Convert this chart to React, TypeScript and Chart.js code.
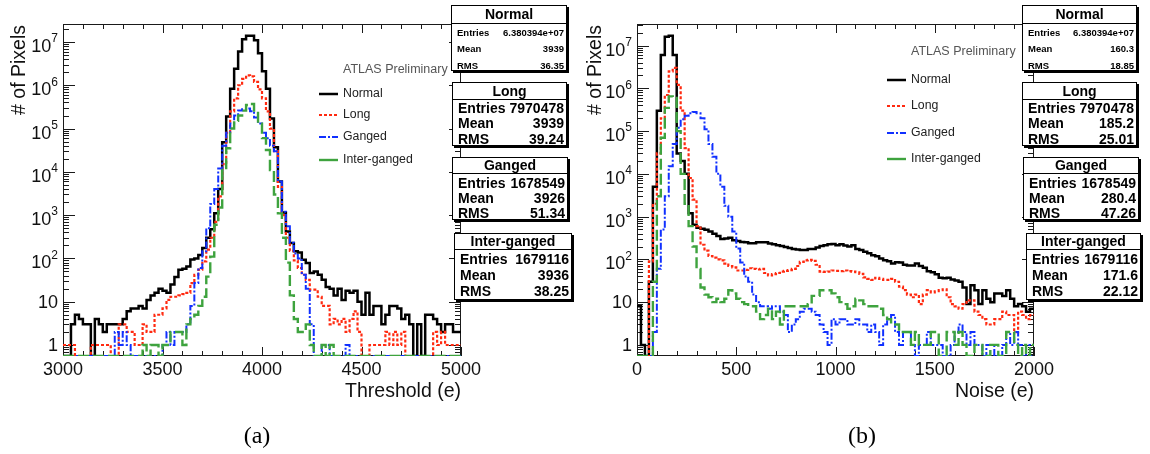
import React, { useEffect, useRef } from 'react';
import { Chart, registerables } from 'chart.js';

Chart.register(...registerables);

// ---------------- data ----------------
const binWidth = 20;
const thresholdRange = [3000, 5000];
const noiseRange = [0, 2000];
const thresholdMajorTicks = [3000, 3500, 4000, 4500, 5000];
const noiseMajorTicks = [0, 500, 1000, 1500, 2000];
const minorTickStep = 100;
const decadeTicks = [0, 1, 2, 3, 4, 5, 6, 7];

const seriesNames = ['Normal', 'Long', 'Ganged', 'Inter-ganged'];
const statLabels = ['Entries', 'Mean', 'RMS'];

const thresholdNormal = [
  0, 0, 3, 5, 4, 3, 3, 0, 4, 3,
  2, 3, 3, 3, 3, 4, 6, 7, 7, 8,
  7, 11, 14, 16, 20, 18, 16, 25, 37, 55,
  58, 65, 95, 100, 120, 175, 300, 470, 1100, 4000,
  48000, 190000, 830000, 2400000, 6000000, 11500000, 14000000, 14000000, 11000000, 5500000,
  2100000, 830000, 170000, 37000, 6000, 1150, 420, 227, 146, 137,
  93, 78, 46, 50, 42, 32, 22, 20, 14, 20,
  11, 18, 16, 18, 10, 5, 16, 5, 8, 8,
  3, 5, 8, 8, 7, 4, 5, 3, 0, 3,
  0, 5, 5, 4, 3, 2, 3, 3, 2, 2,
];
const thresholdLong = [
  1, 1, 1, 0, 0, 0, 0, 1, 1, 1,
  1, 1, 0, 0, 3, 3, 2, 2, 1, 1,
  3, 2, 2, 5, 5, 7, 11, 13, 13, 14,
  15, 16, 27, 42, 55, 85, 160, 300, 700, 2700,
  15000, 80000, 250000, 500000, 1000000, 1400000, 1700000, 1600000, 1200000, 800000,
  500000, 250000, 100000, 30000, 4500, 1000, 300, 150, 90, 60,
  42, 32, 19, 19, 13, 8, 8, 3, 4, 3,
  4, 2, 4, 6, 2, 0, 0, 1, 1, 1,
  1, 2, 1, 2, 1, 2, 0, 0, 0, 0,
  0, 0, 0, 2, 1, 2, 1, 1, 1, 1,
];
const thresholdGanged = [
  0, 0, 0, 0, 0, 0, 0, 0, 0, 0,
  0, 0, 0, 2, 1, 2, 1, 0, 0, 0,
  0, 0, 0, 0, 0, 1, 2, 1, 2, 2,
  2, 3, 8, 27, 60, 146, 500, 1800, 4000, 12000,
  40000, 80000, 130000, 200000, 260000, 280000, 290000, 250000, 180000, 130000,
  80000, 60000, 40000, 30000, 6000, 1200, 550, 230, 130, 100,
  42, 20, 3, 0, 0, 1, 1, 0, 0, 0,
  0, 1, 0, 0, 0, 0, 0, 0, 0, 0,
  0, 0, 0, 0, 0, 0, 0, 0, 0, 0,
  0, 0, 0, 0, 0, 0, 0, 0, 0, 0,
];
const thresholdInterGanged = [
  0, 0, 0, 0, 0, 0, 0, 0, 0, 0,
  0, 0, 0, 0, 0, 0, 0, 0, 0, 0,
  1, 0, 1, 1, 0, 1, 1, 2, 2, 2,
  1, 3, 4, 5, 8, 13, 38, 110, 600, 1500,
  11000, 35000, 100000, 150000, 200000, 260000, 350000, 370000, 260000, 130000,
  60000, 32000, 11000, 3000, 1100, 300, 80, 14, 4, 2,
  2, 3, 1, 0, 0, 1, 0, 1, 0, 0,
  0, 0, 0, 0, 0, 0, 0, 0, 0, 0,
  0, 0, 0, 0, 0, 0, 0, 0, 0, 0,
  0, 0, 0, 0, 0, 0, 0, 0, 0, 0,
];

const noiseNormal = [
  8, 1, 0, 30, 5000, 300000, 6000000, 16000000, 17000000, 6000000,
  30000, 20000, 10000, 1200, 650, 550, 520, 490, 450, 400,
  350, 300, 310, 320, 280, 270, 255, 250, 240, 240,
  250, 250, 250, 235, 225, 215, 205, 195, 185, 175,
  170, 165, 165, 175, 175, 190, 205, 215, 225, 230,
  215, 225, 210, 200, 215, 175, 165, 150, 140, 125,
  118, 105, 95, 90, 80, 86, 84, 75, 72, 72,
  80, 70, 64, 53, 50, 45, 37, 36, 37, 34,
  32, 30, 22, 9, 25, 19, 9, 19, 12, 10,
  16, 16, 14, 19, 12, 8, 9, 8, 6, 7,
];
const noiseLong = [
  0, 0, 0, 90, 2000, 30000, 200000, 700000, 2500000, 3000000,
  1200000, 300000, 40000, 8000, 2500, 600, 220, 160, 120, 110,
  100, 95, 80, 70, 65, 55, 55, 57, 62, 60,
  58, 60, 48, 42, 45, 48, 52, 54, 56, 60,
  70, 87, 95, 98, 92, 75, 52, 51, 52, 55,
  54, 53, 55, 53, 52, 50, 46, 38, 35, 33,
  37, 35, 33, 33, 35, 30, 23, 19, 15, 13,
  15, 9, 15, 19, 17, 18, 19, 20, 13, 9,
  8, 7, 9, 11, 11, 6, 5, 4, 3, 3,
  4, 4, 6, 5, 5, 2, 6, 5, 4, 5,
];
const noiseGanged = [
  0, 0, 0, 0, 2, 60, 500, 3000, 15000, 50000,
  120000, 190000, 230000, 260000, 280000, 260000, 200000, 110000, 50000, 25000,
  10000, 5000, 1800, 1000, 450, 180, 85, 40, 30, 15,
  10, 8, 8, 7, 8, 8, 6, 5, 2, 3,
  4, 6, 7, 7, 6, 5, 3, 2, 1, 4,
  3, 4, 4, 3, 3, 4, 3, 3, 2, 3,
  2, 1, 3, 4, 5, 2, 1, 2, 2, 1,
  0, 1, 1, 2, 1, 1, 1, 0, 0, 1,
  2, 3, 2, 1, 2, 1, 1, 0, 1, 1,
  0, 0, 1, 2, 1, 2, 1, 0, 1, 0,
];
const noiseInterGanged = [
  0, 0, 0, 0, 30, 3000, 70000, 350000, 650000, 600000,
  100000, 10000, 2000, 600, 200, 60, 22, 15, 13, 10,
  12, 10, 12, 19, 16, 12, 10, 9, 8, 8,
  6, 4, 5, 7, 4, 6, 3, 8, 8, 8,
  8, 8, 8, 9, 14, 14, 19, 19, 19, 16,
  13, 10, 9, 7, 8, 12, 11, 9, 8, 8,
  8, 7, 5, 4, 3, 3, 2, 2, 2, 1,
  2, 1, 1, 1, 2, 2, 0, 0, 2, 2,
  1, 2, 1, 0, 0, 1, 1, 0, 0, 1,
  1, 0, 0, 2, 2, 1, 0, 1, 0, 1,
];

const thresholdStats = [
  ['6.380394e+07', '3939', '36.35'],
  ['7970478', '3939', '39.24'],
  ['1678549', '3926', '51.34'],
  ['1679116', '3936', '38.25'],
];
const noiseStats = [
  ['6.380394e+07', '160.3', '18.85'],
  ['7970478', '185.2', '25.01'],
  ['1678549', '280.4', '47.26'],
  ['1679116', '171.6', '22.12'],
];

// ---------------- styles / layout ----------------
const FONT = '"Liberation Sans", Arial, Helvetica, sans-serif';
const seriesStyles = [
  { color: '#000000', width: 2.5, dash: [] as number[] },
  { color: '#ff2a10', width: 2.2, dash: [3, 2] },
  { color: '#1030ff', width: 2.0, dash: [7, 2, 2, 2] },
  { color: '#3ea33e', width: 2.4, dash: [11, 4] },
];

type PanelDef = {
  id: string;
  canvasLeft: number;
  area: { left: number; top: number; right: number; bottom: number };
  xRange: number[];
  yMin: number;
  yMax: number;
  majorTicks: number[];
  series: number[][];
  xTitle: string;
  yTitleX: number;
  legend: { sampleX0: number; sampleX1: number; textX: number; atlasY: number; rowsY: number[] };
};

const panelA: PanelDef = {
  id: 'a',
  canvasLeft: 0,
  area: { left: 63, top: 24, right: 461, bottom: 356 },
  xRange: thresholdRange,
  yMin: 0.557,
  yMax: 2.6e7,
  majorTicks: thresholdMajorTicks,
  series: [thresholdNormal, thresholdLong, thresholdGanged, thresholdInterGanged],
  xTitle: 'Threshold (e)',
  yTitleX: 25,
  legend: { sampleX0: 319, sampleX1: 338, textX: 343, atlasY: 70, rowsY: [94, 115, 137, 160] },
};

const panelB: PanelDef = {
  id: 'b',
  canvasLeft: 575,
  area: { left: 62, top: 24, right: 459, bottom: 356 },
  xRange: noiseRange,
  yMin: 0.55,
  yMax: 3.2e7,
  majorTicks: noiseMajorTicks,
  series: [noiseNormal, noiseLong, noiseGanged, noiseInterGanged],
  xTitle: 'Noise (e)',
  yTitleX: 26,
  legend: { sampleX0: 312, sampleX1: 331, textX: 336, atlasY: 52, rowsY: [80, 106, 133, 159] },
};

const CANVAS_W = 575;
const CANVAS_H = 454;

function histogramPoints(values: number[], xMin: number, floor: number) {
  const pts = values.map((v, i) => ({ x: xMin + i * binWidth, y: v > 0 ? v : floor }));
  pts.push({ x: xMin + values.length * binWidth, y: pts[pts.length - 1].y });
  return pts;
}

function rootPlugin(p: PanelDef) {
  return {
    id: 'rootStyle' + p.id,
    beforeDatasetsDraw(chart: any) {
      const ctx = chart.ctx as CanvasRenderingContext2D;
      const { left, top, right, bottom } = chart.chartArea;
      const xs = chart.scales.x;
      const ys = chart.scales.y;
      ctx.save();
      ctx.strokeStyle = '#1a1a1a';
      ctx.lineWidth = 1;
      ctx.setLineDash([]);
      ctx.strokeRect(left + 0.5, top + 0.5, right - left - 1, bottom - top - 1);
      ctx.beginPath();
      for (let v = p.xRange[0]; v <= p.xRange[1] + 1e-6; v += minorTickStep) {
        const px = Math.round(xs.getPixelForValue(v)) + 0.5;
        const len = p.majorTicks.includes(v) ? 9 : 5;
        ctx.moveTo(px, bottom);
        ctx.lineTo(px, bottom - len);
        ctx.moveTo(px, top);
        ctx.lineTo(px, top + len);
      }
      for (let d = -1; d <= 8; d++) {
        for (let m = 1; m <= 9; m++) {
          const v = m * Math.pow(10, d);
          if (v < ys.min || v > ys.max) continue;
          const py = Math.round(ys.getPixelForValue(v)) + 0.5;
          const len = m === 1 ? 12 : 6;
          ctx.moveTo(left, py);
          ctx.lineTo(left + len, py);
          ctx.moveTo(right, py);
          ctx.lineTo(right - len, py);
        }
      }
      ctx.stroke();

      // x tick labels
      ctx.fillStyle = '#111';
      ctx.font = `18px ${FONT}`;
      ctx.textAlign = 'center';
      ctx.textBaseline = 'top';
      p.majorTicks.forEach((v) => {
        ctx.fillText(String(v), xs.getPixelForValue(v), bottom + 5);
      });

      // y tick labels
      const xr = left - 5;
      decadeTicks.forEach((n) => {
        const py = ys.getPixelForValue(Math.pow(10, n));
        ctx.textBaseline = 'middle';
        if (n <= 1) {
          ctx.font = `18px ${FONT}`;
          ctx.textAlign = 'right';
          ctx.fillText(n === 0 ? '1' : '10', xr, py + 1);
        } else {
          ctx.font = `12px ${FONT}`;
          const exp = String(n);
          const ew = ctx.measureText(exp).width;
          ctx.textAlign = 'left';
          ctx.fillText(exp, xr - ew, py - 3);
          ctx.font = `18px ${FONT}`;
          ctx.textAlign = 'right';
          ctx.fillText('10', xr - ew, py + 5);
        }
      });

      // axis titles
      ctx.font = `19.5px ${FONT}`;
      ctx.textAlign = 'right';
      ctx.textBaseline = 'alphabetic';
      ctx.fillText(p.xTitle, right, 397);
      ctx.save();
      ctx.translate(p.yTitleX, top + 1);
      ctx.rotate(-Math.PI / 2);
      ctx.textAlign = 'right';
      ctx.fillText('# of Pixels', 0, 0);
      ctx.restore();
      ctx.restore();
    },
    afterDatasetsDraw(chart: any) {
      const ctx = chart.ctx as CanvasRenderingContext2D;
      const L = p.legend;
      ctx.save();
      ctx.textBaseline = 'middle';
      ctx.textAlign = 'left';
      ctx.font = `12.5px ${FONT}`;
      ctx.fillStyle = '#555';
      ctx.fillText('ATLAS Preliminary', L.textX, L.atlasY);
      ctx.font = `12.3px ${FONT}`;
      seriesNames.forEach((name, i) => {
        const st = seriesStyles[i];
        const y = L.rowsY[i];
        ctx.strokeStyle = st.color;
        ctx.lineWidth = st.width;
        ctx.setLineDash(i === 3 ? [] : st.dash);
        ctx.beginPath();
        ctx.moveTo(L.sampleX0, y);
        ctx.lineTo(L.sampleX1, y);
        ctx.stroke();
        ctx.fillStyle = '#222';
        ctx.fillText(name, L.textX, y);
      });
      ctx.restore();
    },
  };
}

function makeChart(canvas: HTMLCanvasElement, p: PanelDef) {
  const datasets = p.series.map((vals, i) => ({
    label: seriesNames[i],
    data: histogramPoints(vals, p.xRange[0], p.yMin),
    borderColor: seriesStyles[i].color,
    borderWidth: seriesStyles[i].width,
    borderDash: seriesStyles[i].dash,
    backgroundColor: 'transparent',
    fill: false,
    stepped: 'before' as const,
    pointRadius: 0,
    tension: 0,
    order: 3 - i,
  }));
  return new Chart(canvas, {
    type: 'line',
    data: { datasets },
    options: {
      responsive: false,
      maintainAspectRatio: false,
      devicePixelRatio: 1,
      animation: false,
      events: [],
      layout: {
        padding: {
          left: p.area.left,
          top: p.area.top,
          right: CANVAS_W - p.area.right,
          bottom: CANVAS_H - p.area.bottom,
        },
      },
      plugins: { legend: { display: false }, tooltip: { enabled: false } },
      scales: {
        x: { type: 'linear', min: p.xRange[0], max: p.xRange[1], display: false },
        y: { type: 'logarithmic', min: p.yMin, max: p.yMax, display: false },
      },
    },
    plugins: [rootPlugin(p)],
  } as any);
}

type BoxPos = { x: number; y: number; w: number; h: number; titleH: number; rowH: number; padTop: number };
const boxesA: BoxPos[] = [
  { x: 451, y: 5, w: 116, h: 66, titleH: 17, rowH: 16.5, padTop: 0 },
  { x: 452, y: 82, w: 115, h: 64, titleH: 16, rowH: 15.5, padTop: 0 },
  { x: 452, y: 157, w: 116, h: 63, titleH: 15, rowH: 15, padTop: 1 },
  { x: 454, y: 233, w: 118, h: 67, titleH: 15, rowH: 16, padTop: 1 },
];
const boxesB: BoxPos[] = [
  { x: 1022, y: 5, w: 115, h: 66, titleH: 17, rowH: 16.5, padTop: 0 },
  { x: 1022, y: 82, w: 115, h: 64, titleH: 16, rowH: 15.5, padTop: 0 },
  { x: 1023, y: 157, w: 116, h: 63, titleH: 15, rowH: 15, padTop: 1 },
  { x: 1026, y: 233, w: 115, h: 67, titleH: 15, rowH: 16, padTop: 1 },
];

function StatBox({ pos, title, values, small }: { pos: BoxPos; title: string; values: string[]; small: boolean }) {
  return (
    <div
      style={{
        position: 'absolute',
        left: pos.x,
        top: pos.y,
        width: pos.w,
        height: pos.h,
        boxSizing: 'border-box',
        border: '1px solid #000',
        boxShadow: '2px 2px 0 #000',
        background: '#fff',
        fontFamily: FONT,
        color: '#000',
      }}
    >
      <div
        style={{
          height: pos.titleH,
          lineHeight: pos.titleH + 'px',
          borderBottom: '1px solid #000',
          fontWeight: 'bold',
          fontSize: 14,
          textAlign: 'center',
        }}
      >
        {title}
      </div>
      <div style={{ paddingTop: pos.padTop, paddingLeft: 5, paddingRight: 2 }}>
        {statLabels.map((lab, i) => (
          <div
            key={lab}
            style={{
              display: 'flex',
              justifyContent: 'space-between',
              alignItems: 'center',
              height: pos.rowH,
              fontWeight: 'bold',
              fontSize: small ? 9.5 : 14,
              lineHeight: 1,
            }}
          >
            <span>{lab}</span>
            <span>{values[i]}</span>
          </div>
        ))}
      </div>
    </div>
  );
}

export default function App() {
  const leftRef = useRef<HTMLCanvasElement>(null);
  const rightRef = useRef<HTMLCanvasElement>(null);

  useEffect(() => {
    const charts = [makeChart(leftRef.current!, panelA), makeChart(rightRef.current!, panelB)];
    return () => charts.forEach((c) => c.destroy());
  }, []);

  const caption = (text: string, cx: number) => (
    <div
      style={{
        position: 'absolute',
        left: cx - 40,
        top: 420,
        width: 80,
        textAlign: 'center',
        fontFamily: '"Liberation Serif", "DejaVu Serif", serif',
        fontSize: 24,
        lineHeight: '30px',
        color: '#000',
      }}
    >
      {text}
    </div>
  );

  return (
    <div
      style={{
        position: 'absolute',
        left: 0,
        top: 0,
        width: 1150,
        height: 454,
        background: '#fff',
        overflow: 'hidden',
      }}
    >
      <canvas
        ref={leftRef}
        width={CANVAS_W}
        height={CANVAS_H}
        style={{ position: 'absolute', left: panelA.canvasLeft, top: 0, width: CANVAS_W, height: CANVAS_H }}
      />
      <canvas
        ref={rightRef}
        width={CANVAS_W}
        height={CANVAS_H}
        style={{ position: 'absolute', left: panelB.canvasLeft, top: 0, width: CANVAS_W, height: CANVAS_H }}
      />
      {seriesNames.map((name, i) => (
        <StatBox key={'a' + name} pos={boxesA[i]} title={name} values={thresholdStats[i]} small={i === 0} />
      ))}
      {seriesNames.map((name, i) => (
        <StatBox key={'b' + name} pos={boxesB[i]} title={name} values={noiseStats[i]} small={i === 0} />
      ))}
      {caption('(a)', 257)}
      {caption('(b)', 862)}
    </div>
  );
}
